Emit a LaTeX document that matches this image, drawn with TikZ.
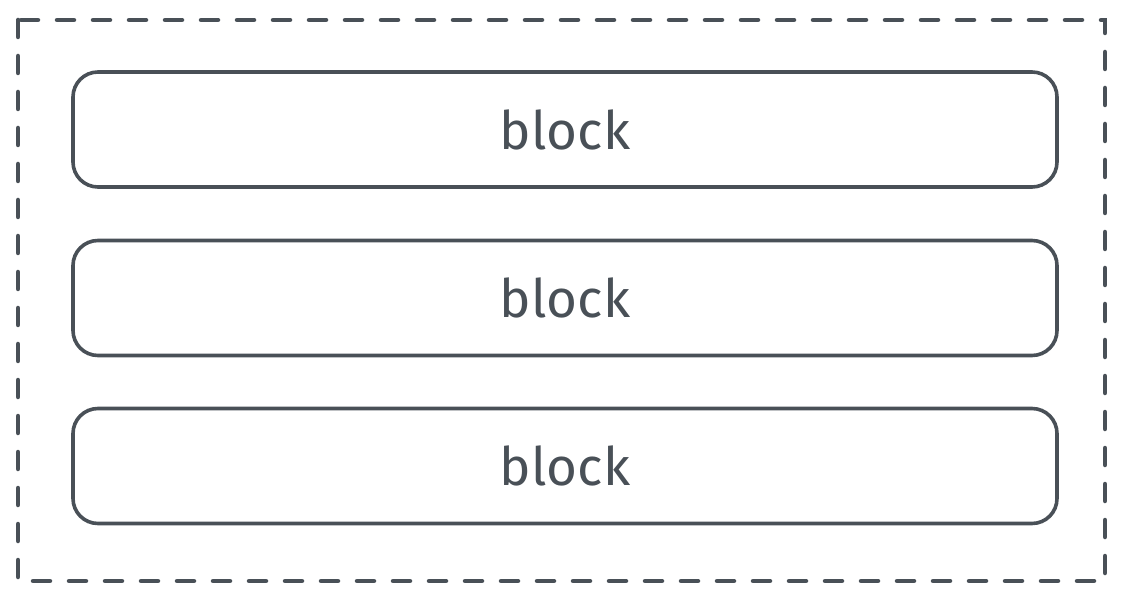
\documentclass[tikz,border=0pt]{standalone}
\usepackage{fontspec}
\setmainfont{Fira Sans}
\definecolor{ink}{HTML}{495057}
\begin{document}
\begin{tikzpicture}[x=1pt,y=-1pt,
  blockbox/.style={draw=ink, line width=3.6pt, rounded corners=25pt, minimum width=984pt, minimum height=115pt, inner sep=0pt, text=ink, font=\fontsize{53}{60}\selectfont},
  frame/.style={draw=ink, line width=4.5pt, line cap=round, dash pattern=on 17pt off 19pt}]
\useasboundingbox (0,0) rectangle (1124,601);
\node[blockbox] (b1) at (565,129.5) {block};
\node[blockbox] (b2) at (565,298) {block};
\node[blockbox] (b3) at (565,466) {block};
\draw[frame] (18,20) rectangle (1105,581);
\end{tikzpicture}
\end{document}
